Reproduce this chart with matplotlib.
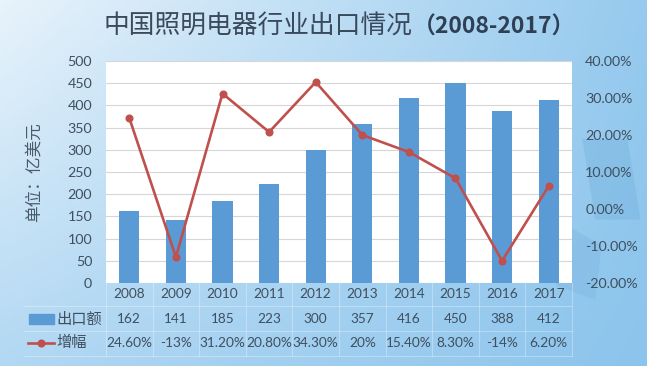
import numpy as np
import matplotlib
matplotlib.use("Agg")
import matplotlib.pyplot as plt
from matplotlib.transforms import blended_transform_factory
from matplotlib.lines import Line2D
from matplotlib.patches import Rectangle
from matplotlib import font_manager

plt.rcParams['font.family'] = ['Lato', 'Noto Sans CJK SC', 'DejaVu Sans']

years = ['2008', '2009', '2010', '2011', '2012', '2013', '2014', '2015', '2016', '2017']
exports = [162, 141, 185, 223, 300, 357, 416, 450, 388, 412]
growth = [24.6, -13, 31.2, 20.8, 34.3, 20, 15.4, 8.3, -14, 6.2]
growth_labels = ['24.60%', '-13%', '31.20%', '20.80%', '34.30%', '20%', '15.40%', '8.30%', '-14%', '6.20%']
left_ticks = [0, 50, 100, 150, 200, 250, 300, 350, 400, 450, 500]
right_ticks = [-20, -10, 0, 10, 20, 30, 40]

TXT = '#3f4f5f'
W, H = 647, 366
fig = plt.figure(figsize=(W / 100, H / 100), dpi=100)

# background gradient
bg = fig.add_axes([0, 0, 1, 1], zorder=-10)
bg.set_axis_off()
tl = np.array([232, 243, 251]) / 255
tr = np.array([150, 202, 238]) / 255
bl = np.array([178, 216, 243]) / 255
br = np.array([140, 196, 236]) / 255
xs = np.linspace(0, 1, 200)[None, :, None]
ys = np.linspace(0, 1, 120)[:, None, None]
img = (1 - ys) * ((1 - xs) * tl + xs * tr) + ys * ((1 - xs) * bl + xs * br)
bg.imshow(img, aspect='auto', extent=[0, 1, 0, 1], origin='upper')
bg.set_xlim(0, 1)
bg.set_ylim(0, 1)
bg.add_patch(plt.Polygon([[0.90, 0.62], [0.97, 0.62], [0.99, 0.40], [0.92, 0.40]],
                         color='#5a9fd0', alpha=0.22, lw=0))
bg.add_patch(plt.Polygon([[0.86, 0.40], [0.93, 0.33], [0.92, 0.18], [0.86, 0.22]],
                         color='#6aa8d6', alpha=0.22, lw=0))

left, right = 106 / W, 572 / W
bottom, top = 1 - 283 / H, 1 - 61 / H
ax = fig.add_axes([left, bottom, right - left, top - bottom])
ax.set_facecolor('white')
x = np.arange(len(years))
ax.bar(x, exports, width=0.43, color='#5b9bd5', zorder=3)
ax.set_xlim(-0.5, len(years) - 0.5)
ax.set_ylim(0, 500)
ax.set_yticks(left_ticks)
ax.grid(axis='y', color='#d6d6d6', lw=0.8, zorder=0)
for s in ax.spines.values():
    s.set_visible(False)
ax.tick_params(axis='y', length=0, labelsize=10.3, labelcolor=TXT, pad=10)
ax.tick_params(axis='x', length=0, labelbottom=False)
ax.set_ylabel('单位：亿美元', fontsize=12, color='#4a5a6a', labelpad=18,
              family=['Noto Sans CJK SC', 'DejaVu Sans'], fontweight='light')

ax2 = ax.twinx()
ax2.plot(x, growth, color='#c0504d', lw=1.9, marker='o', markersize=4.8, zorder=5)
ax2.set_ylim(-20, 40)
ax2.set_yticks(right_ticks)
ax2.set_yticklabels([f'{v:.2f}%' for v in right_ticks])
for s in ax2.spines.values():
    s.set_visible(False)
ax2.tick_params(axis='y', length=0, labelsize=10.3, labelcolor=TXT, pad=9.5)

# data table
trans = blended_transform_factory(ax.transData, fig.transFigure)
row_y = [1 - 294 / H, 1 - 319 / H, 1 - 343 / H]
for i in range(len(years)):
    ax.text(x[i], row_y[0], years[i], transform=trans, ha='center', va='center',
            fontsize=9.8, color=TXT, clip_on=False)
    ax.text(x[i], row_y[1], str(exports[i]), transform=trans, ha='center', va='center',
            fontsize=9.8, color=TXT, clip_on=False)
    ax.text(x[i], row_y[2], growth_labels[i], transform=trans, ha='center', va='center',
            fontsize=9.8, color=TXT, clip_on=False)

for k in range(len(years) + 1):
    ax.plot([k - 0.5, k - 0.5], [1 - 283 / H, 1 - 356 / H], transform=trans,
            color='white', alpha=0.3, lw=0.8, clip_on=False)
for yy in [1 - 306 / H, 1 - 331 / H, 1 - 356 / H]:
    fig.add_artist(Line2D([24 / W, right], [yy, yy], color='white', alpha=0.3, lw=0.8))

# row legends
fig.patches.append(Rectangle((29 / W, row_y[1] - 5 / H), 25 / W, 10 / H,
                             transform=fig.transFigure, color='#5b9bd5'))
fig.text(56 / W, row_y[1], '出口额', ha='left', va='center', fontsize=11, color=TXT,
         family=['Noto Sans CJK SC', 'DejaVu Sans'], fontweight='light')
fig.add_artist(Line2D([28 / W, 54 / W], [row_y[2], row_y[2]], color='#c0504d', lw=1.9))
fig.add_artist(Line2D([41 / W], [row_y[2]], color='#c0504d', marker='o', markersize=4.8))
fig.text(56 / W, row_y[2], '增幅', ha='left', va='center', fontsize=11, color=TXT,
         family=['Noto Sans CJK SC', 'DejaVu Sans'], fontweight='light')

# title
names = {f.name for f in font_manager.fontManager.ttflist}
narrow = 'Liberation Sans Narrow' if 'Liberation Sans Narrow' in names else 'DejaVu Sans Condensed'
fig.text(413 / W, 1 - 27 / H, '中国照明电器行业出口情况', ha='right', va='center',
         fontsize=18.5, color='#3a4a5c', fontweight='light',
         family=['Noto Sans CJK SC', 'DejaVu Sans'])
fig.text(413 / W, 1 - 27 / H, '（2008-2017）', ha='left', va='center',
         fontsize=16.5, color='#2f4054', fontweight='bold',
         family=[narrow, 'Noto Sans CJK SC', 'DejaVu Sans'])

fig.savefig('out.png', dpi=100)
